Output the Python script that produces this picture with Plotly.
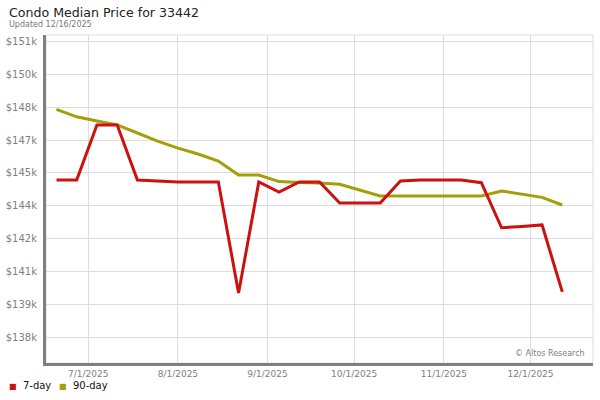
import plotly.graph_objects as go

# ---- data ----
dates = ["2025-06-20", "2025-06-27", "2025-07-04", "2025-07-11", "2025-07-18", "2025-07-25",
         "2025-08-01", "2025-08-08", "2025-08-15", "2025-08-22", "2025-08-29", "2025-09-05",
         "2025-09-12", "2025-09-19", "2025-09-26", "2025-10-03", "2025-10-10", "2025-10-17",
         "2025-10-24", "2025-10-31", "2025-11-07", "2025-11-14", "2025-11-21", "2025-11-28",
         "2025-12-05", "2025-12-12"]
price_7day = [144670, 144670, 147190, 147190, 144670, 144630, 144580, 144580, 144580, 139510,
              144580, 144120, 144580, 144580, 143620, 143620, 143620, 144630, 144670, 144670,
              144670, 144550, 142490, 142550, 142620, 139560]
price_90day = [147900, 147560, 147370, 147190, 146820, 146450, 146130, 145860, 145540, 144900,
               144900, 144600, 144560, 144540, 144480, 144220, 143940, 143940, 143940, 143940,
               143940, 143940, 144170, 144030, 143880, 143530]
y_tick_vals = [137500, 139000, 140500, 142000, 143500, 145000, 146500, 148000, 149500, 151000]
y_tick_text = ["$138k", "$139k", "$141k", "$142k", "$144k", "$145k", "$147k", "$148k", "$150k", "$151k"]
x_tick_vals = ["2025-07-01", "2025-08-01", "2025-09-01", "2025-10-01", "2025-11-01", "2025-12-01"]
x_tick_text = ["7/1/2025", "8/1/2025", "9/1/2025", "10/1/2025", "11/1/2025", "12/1/2025"]
series_names = ["7-day", "90-day"]

RED = "#cc1111"
OLIVE = "#a59e0b"
FONT = "DejaVu Sans"

L, R, T, B = 46, 7, 35, 37
PW, PH = 600 - L - R, 400 - T - B

fig = go.Figure()
fig.add_trace(go.Scatter(x=dates, y=price_90day, mode="lines", name=series_names[1],
                         line=dict(color=OLIVE, width=3)))
fig.add_trace(go.Scatter(x=dates, y=price_7day, mode="lines", name=series_names[0],
                         line=dict(color=RED, width=3)))


def legend_item(label, color, px):
    return dict(text=f"<span style='color:{color};font-size:8px'>■</span>&nbsp;&nbsp;{label}",
                xref="paper", yref="paper", x=(px - L) / PW, y=-(385 - (400 - B)) / PH,
                xanchor="left", yanchor="middle", showarrow=False,
                font=dict(family=FONT, size=10, color="#111111"))


fig.update_layout(
    width=600, height=400,
    margin=dict(l=L, r=R, t=T, b=B, autoexpand=False),
    paper_bgcolor="white", plot_bgcolor="white",
    font=dict(family=FONT, color="#808080", size=10),
    showlegend=False,
    xaxis=dict(type="date", range=["2025-06-16 09:00", "2025-12-22 15:00"],
               tickvals=x_tick_vals, ticktext=x_tick_text,
               showgrid=True, gridcolor="#dddddd", gridwidth=1,
               showline=True, linecolor="#808080", linewidth=3,
               ticks="", tickfont=dict(size=9, color="#808080"), zeroline=False),
    yaxis=dict(range=[136312, 151297], tickvals=y_tick_vals, ticktext=y_tick_text,
               showgrid=True, gridcolor="#dddddd", gridwidth=1,
               showline=True, linecolor="#808080", linewidth=3,
               ticks="", tickfont=dict(size=10, color="#808080"), zeroline=False,
               ticklabelstandoff=4),
    shapes=[dict(type="rect", xref="paper", yref="paper", x0=0, x1=1, y0=0, y1=1,
                 line=dict(color="#dddddd", width=1), layer="below")],
    annotations=[
        dict(text="Condo Median Price for 33442", xref="paper", yref="paper",
             x=(7 - L) / PW, y=1 + (T - 13) / PH, xanchor="left", yanchor="middle", showarrow=False,
             font=dict(family=FONT, size=12.6, color="#222222")),
        dict(text="Updated 12/16/2025", xref="paper", yref="paper",
             x=(7 - L) / PW, y=1 + (T - 25) / PH, xanchor="left", yanchor="middle", showarrow=False,
             font=dict(family=FONT, size=8, color="#777777")),
        dict(text="© Altos Research", xref="paper", yref="paper",
             x=1 - 6 / PW, y=10 / PH, xanchor="right", yanchor="middle", showarrow=False,
             font=dict(family=FONT, size=8, color="#808080")),
        legend_item(series_names[0], RED, 7),
        legend_item(series_names[1], OLIVE, 57),
    ],
)

post = ("document.documentElement.style.margin='0';document.body.style.margin='0';"
        "document.body.style.padding='0';document.body.style.overflow='hidden';"
        "var gd=document.getElementById('{plot_id}');"
        "Plotly.relayout(gd,{width:600,height:400});")

fig.write_html("out.html", post_script=post,
               config={"responsive": False, "displayModeBar": False})
